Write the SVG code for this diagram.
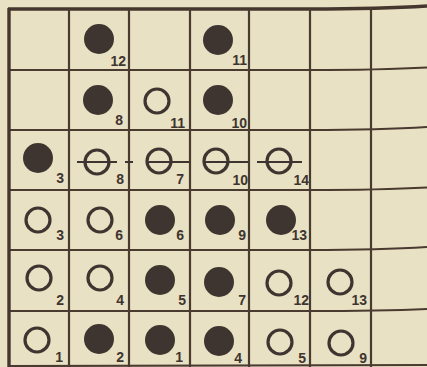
<svg xmlns="http://www.w3.org/2000/svg" width="427" height="367" viewBox="0 0 427 367">
<style>
.g{fill:none;stroke:#4a3b31;stroke-width:2.2}
.b{fill:none;stroke:#45372e;stroke-width:3.4}
.k{fill:#3f3530}
.w{fill:none;stroke:#3f3530;stroke-width:3.2}
.l{stroke:#3f3530;stroke-width:2;fill:none}
text{font-family:"Liberation Sans",Arial,sans-serif;font-weight:bold;font-size:14px;fill:#3f3530;text-anchor:end}
</style>
<rect width="427" height="367" fill="#e9e1c3"/>
<g id="grid">
<path class="b" d="M8,9 L310,9 Q380,9 427,6"/>
<path class="g" d="M9,70 L310,70 Q380,70 427,67.5"/>
<path class="g" d="M9,130 L310,130 Q380,130 427,127"/>
<path class="g" d="M9,190 L310,190 Q380,190 427,187.5"/>
<path class="g" d="M9,250 L310,250 Q380,250 427,247"/>
<path class="g" d="M9,311 L310,311 Q380,311 427,309"/>
<path class="g" d="M9,366 L427,365"/>
<path class="b" d="M9,8 L9,367"/>
<path class="g" d="M69,9 L69,367"/>
<path class="g" d="M129,9 L129,367"/>
<path class="g" d="M190,9 L190,367"/>
<path class="g" d="M249,9 L249,367"/>
<path class="g" d="M310,9 L310,367"/>
<path class="g" d="M371,8 L371,367"/>
</g>
<g id="connectors">
<path class="l" d="M77,162 L117,162"/>
<path class="l" d="M125,162 L133,162 M148,162 L190,162"/>
<path class="l" d="M205,162 L248,162"/>
<path class="l" d="M257,162 L302,162"/>
</g>
<g id="r0">
<circle class="k" cx="99" cy="39" r="15"/><text x="126" y="66">12</text>
<circle class="k" cx="218" cy="40" r="15"/><text x="247" y="65">11</text>
</g>
<g id="r1">
<circle class="k" cx="98" cy="100" r="15"/><text x="123" y="125">8</text>
<circle class="w" cx="157" cy="101" r="12"/><text x="185" y="128">11</text>
<circle class="k" cx="218" cy="100" r="15"/><text x="247" y="128">10</text>
</g>
<g id="r2">
<circle class="k" cx="38" cy="158" r="15"/><text x="64" y="183">3</text>
<circle class="w" cx="97" cy="162" r="12"/><text x="124" y="184">8</text>
<circle class="w" cx="159" cy="161" r="12"/><text x="184" y="184">7</text>
<circle class="w" cx="216" cy="161" r="12"/><text x="248" y="185">10</text>
<circle class="w" cx="279" cy="161" r="12"/><text x="309" y="185">14</text>
</g>
<g id="r3">
<circle class="w" cx="38" cy="220" r="12"/><text x="64" y="240">3</text>
<circle class="w" cx="100" cy="220" r="12"/><text x="123" y="240">6</text>
<circle class="k" cx="160" cy="220" r="15"/><text x="184" y="240">6</text>
<circle class="k" cx="220" cy="220" r="15"/><text x="246" y="240">9</text>
<circle class="k" cx="281" cy="220" r="15"/><text x="307" y="240">13</text>
</g>
<g id="r4">
<circle class="w" cx="39" cy="278" r="12"/><text x="64" y="305">2</text>
<circle class="w" cx="100" cy="278" r="12"/><text x="124" y="305">4</text>
<circle class="k" cx="160" cy="280" r="15"/><text x="186" y="305">5</text>
<circle class="k" cx="219" cy="282" r="15"/><text x="246" y="305">7</text>
<circle class="w" cx="279" cy="283" r="12"/><text x="309" y="305">12</text>
<circle class="w" cx="340" cy="282" r="12"/><text x="367" y="305">13</text>
</g>
<g id="r5">
<circle class="w" cx="37" cy="340" r="12"/><text x="63" y="362">1</text>
<circle class="k" cx="99" cy="339" r="15"/><text x="124" y="362">2</text>
<circle class="k" cx="160" cy="340" r="15"/><text x="183" y="362">1</text>
<circle class="k" cx="219" cy="341" r="15"/><text x="242" y="363">4</text>
<circle class="w" cx="280" cy="342" r="12"/><text x="306" y="363">5</text>
<circle class="w" cx="341" cy="343" r="12"/><text x="367" y="363">9</text>
</g>
</svg>
